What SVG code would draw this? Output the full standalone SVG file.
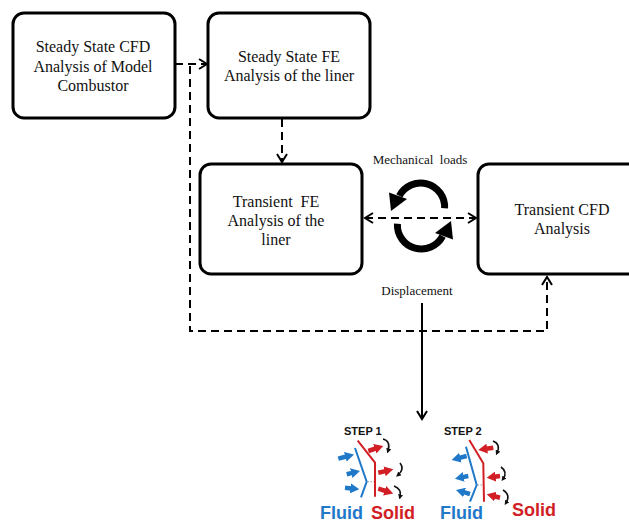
<svg xmlns="http://www.w3.org/2000/svg" width="629" height="524" viewBox="0 0 629 524">
  <style>
    .box { fill: #ffffff; stroke: #000000; stroke-width: 3; }
    .lbl { font-family: "Liberation Serif", "Times New Roman", serif; font-size: 16px; fill: #111111; text-anchor: middle; }
    .note { font-family: "Liberation Serif", "Times New Roman", serif; font-size: 13px; fill: #111111; text-anchor: middle; }
    .dash { fill: none; stroke: #000000; stroke-width: 2; stroke-dasharray: 8 5; }
    .solid { fill: none; stroke: #000000; stroke-width: 2; }
    .step { font-family: "Liberation Sans", Arial, sans-serif; font-size: 11px; font-weight: bold; fill: #111111; }
    .big { font-family: "Liberation Sans", Arial, sans-serif; font-size: 18px; font-weight: bold; }
    .bl { stroke: #1f78c8; }
    .rd { stroke: #d11f25; }
    .wall { fill: none; stroke-width: 2; }
    .barb { fill: none; stroke-width: 4.5; }
    .curl { fill: none; stroke: #111111; stroke-width: 1.6; }
  </style>
  <defs>
    <marker id="chev" viewBox="-10 -7 12 14" refX="0" refY="0" markerWidth="12" markerHeight="14" markerUnits="userSpaceOnUse" orient="auto-start-reverse">
      <path d="M-8,-5 L0,0 L-8,5" fill="none" stroke="#000" stroke-width="2" stroke-dasharray="none"/>
    </marker>
    <marker id="headB" viewBox="0 0 9 10" refX="1" refY="5" markerWidth="9" markerHeight="10" markerUnits="userSpaceOnUse" orient="auto">
      <path d="M0,0 L9,5 L0,10 z" fill="#1f78c8"/>
    </marker>
    <marker id="headR" viewBox="0 0 9 10" refX="1" refY="5" markerWidth="9" markerHeight="10" markerUnits="userSpaceOnUse" orient="auto">
      <path d="M0,0 L9,5 L0,10 z" fill="#d11f25"/>
    </marker>
    <marker id="headK" viewBox="0 0 6 6" refX="3" refY="3" markerWidth="5" markerHeight="5" markerUnits="userSpaceOnUse" orient="auto">
      <path d="M0,0 L6,3 L0,6 z" fill="#111"/>
    </marker>
  </defs>

  <!-- process boxes -->
  <g id="steady-cfd">
    <rect class="box" x="13" y="13" width="162" height="105" rx="11"/>
    <text class="lbl" x="93" y="52">Steady State CFD</text>
    <text class="lbl" x="93" y="72">Analysis of Model</text>
    <text class="lbl" x="93" y="91">Combustor</text>
  </g>
  <g id="steady-fe">
    <rect class="box" x="208" y="13" width="162" height="105" rx="11"/>
    <text class="lbl" x="289" y="62">Steady State FE</text>
    <text class="lbl" x="289" y="81">Analysis of the liner</text>
  </g>
  <g id="transient-fe">
    <rect class="box" x="200" y="164" width="162" height="110" rx="11"/>
    <text class="lbl" x="276" y="207" xml:space="preserve">Transient  FE</text>
    <text class="lbl" x="276" y="226">Analysis of the</text>
    <text class="lbl" x="276" y="245">liner</text>
  </g>
  <g id="transient-cfd">
    <rect class="box" x="478" y="164" width="170" height="110" rx="11"/>
    <text class="lbl" x="562" y="215">Transient CFD</text>
    <text class="lbl" x="562" y="234">Analysis</text>
  </g>

  <!-- connectors -->
  <g id="connectors">
    <path class="dash" d="M175 64 H207" marker-end="url(#chev)"/>
    <path class="dash" d="M190 66 V331 H547 V277" marker-end="url(#chev)"/>
    <path class="dash" d="M282 119 V162" marker-end="url(#chev)"/>
    <path class="dash" d="M365 218 H476" marker-start="url(#chev)" marker-end="url(#chev)"/>
    <path class="solid" d="M422 303 V419" marker-end="url(#chev)"/>
    <text class="note" x="420" y="164" xml:space="preserve">Mechanical  loads</text>
    <text class="note" x="417" y="295">Displacement</text>
    <!-- coupling cycle -->
    <g id="cycle" fill="none" stroke="#000" stroke-width="7">
      <path d="M444.6 208.2 A24 24 0 0 0 399.4 195.8"/>
      <path d="M397.4 223.8 A24 24 0 0 0 442.6 236.2"/>
    </g>
    <polygon points="407,199 389,192.5 391,211" fill="#000"/>
    <polygon points="435,233 453,239.5 451,221" fill="#000"/>
  </g>

  <!-- fluid / solid interface sketches -->
  <g id="step1">
    <text class="step" x="344" y="435">STEP 1</text>
    <polyline class="wall bl" points="355,448 366.7,481.7 361,497.3"/>
    <polyline class="wall rd" points="357.7,440.7 375,462.7 375,496.7"/>
    <line x1="367.5" y1="481.7" x2="374" y2="481.7" stroke="#999" stroke-width="1" stroke-dasharray="1.5 1.5"/>
    <line class="barb bl" x1="338.3" y1="458.7" x2="346.3" y2="456.5" marker-end="url(#headB)"/>
    <line class="barb bl" x1="346.7" y1="474.3" x2="352.2" y2="472.9" marker-end="url(#headB)"/>
    <line class="barb bl" x1="345" y1="487.7" x2="351.3" y2="488.4" marker-end="url(#headB)"/>
    <line class="barb rd" x1="368.3" y1="451" x2="375.7" y2="448.5" marker-end="url(#headR)"/>
    <line class="barb rd" x1="378.3" y1="472.7" x2="385.5" y2="471.1" marker-end="url(#headR)"/>
    <line class="barb rd" x1="378.3" y1="488.7" x2="385.6" y2="491" marker-end="url(#headR)"/>
    <path class="curl" d="M383 439 Q391 441 388 451" marker-end="url(#headK)"/>
    <path class="curl" d="M400 463 Q405 469 398 475" marker-end="url(#headK)"/>
    <path class="curl" d="M394 486 Q402 489 400 497" marker-end="url(#headK)"/>
    <text class="big" x="320" y="519" fill="#1f78c8">Fluid</text>
    <text class="big" x="371" y="519" fill="#d11f25">Solid</text>
  </g>
  <g id="step2">
    <text class="step" x="444" y="435">STEP 2</text>
    <polyline class="wall rd" points="469.3,440 483.3,463.3 484,501.7"/>
    <polyline class="wall bl" points="466,446.7 476.7,485 470,501.7"/>
    <line x1="477.5" y1="485" x2="483" y2="485" stroke="#999" stroke-width="1" stroke-dasharray="1.5 1.5"/>
    <line class="barb bl" x1="466.7" y1="456" x2="459.4" y2="457.9" marker-end="url(#headB)"/>
    <line class="barb bl" x1="468.3" y1="476" x2="462.8" y2="477.1" marker-end="url(#headB)"/>
    <line class="barb bl" x1="470" y1="494" x2="463.7" y2="492.2" marker-end="url(#headB)"/>
    <line class="barb rd" x1="493.3" y1="447.7" x2="486.2" y2="448.8" marker-end="url(#headR)"/>
    <line class="barb rd" x1="500" y1="476" x2="494.6" y2="476.7" marker-end="url(#headR)"/>
    <line class="barb rd" x1="500" y1="497.7" x2="494.5" y2="496.3" marker-end="url(#headR)"/>
    <path class="curl" d="M493 441 Q501 444 497 453" marker-end="url(#headK)"/>
    <path class="curl" d="M501 467 Q508 472 503 479" marker-end="url(#headK)"/>
    <path class="curl" d="M503 490 Q511 495 506 503" marker-end="url(#headK)"/>
    <text class="big" x="440" y="519" fill="#1f78c8">Fluid</text>
    <text class="big" x="512" y="516" fill="#d11f25">Solid</text>
  </g>
</svg>
